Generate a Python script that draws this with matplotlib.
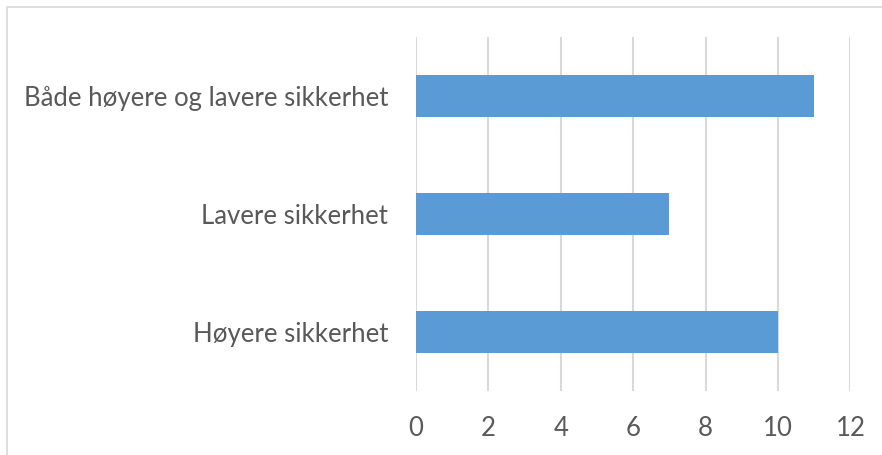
import matplotlib.pyplot as plt
from matplotlib.patches import Rectangle

categories = ["Høyere sikkerhet", "Lavere sikkerhet", "Både høyere og lavere sikkerhet"]
values = [10, 7, 11]
xticks = [0, 2, 4, 6, 8, 10, 12]

TEXT = "#595959"
GRID = "#d9d9d9"

plt.rcParams['font.family'] = ['Lato', 'DejaVu Sans']

fig = plt.figure(figsize=(8.82, 4.55), dpi=100)
fig.patches.append(Rectangle((7 / 882, -0.1), 1.2, 1 - 7 / 455 + 0.1, transform=fig.transFigure,
                             fill=False, edgecolor=GRID, linewidth=1.2))
ax = fig.add_axes([416 / 882, 64 / 455, 434.3 / 882, 354 / 455])

ax.barh(range(len(categories)), values, height=0.36, color="#5b9bd5", zorder=3)
ax.set_xlim(0, 12)
ax.set_ylim(-0.5, len(categories) - 0.5)
ax.set_xticks(xticks)
ax.set_yticks(range(len(categories)))
ax.set_yticklabels(categories)
ax.grid(axis='x', color=GRID, linewidth=1.5, zorder=0)
for s in ax.spines.values():
    s.set_visible(False)
ax.tick_params(axis='both', length=0, labelsize=18.5, colors=TEXT)
ax.tick_params(axis='y', pad=20)
ax.tick_params(axis='x', pad=18)

fig.savefig("out.png", dpi=100)
